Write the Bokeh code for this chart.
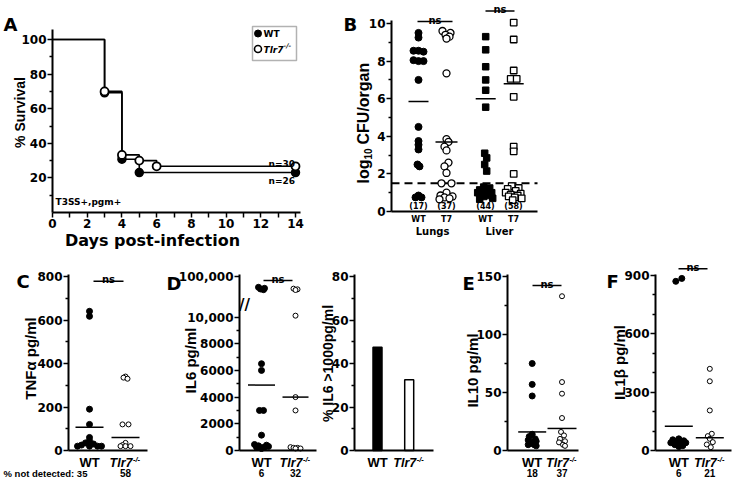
import math
from bokeh.plotting import figure
from bokeh.layouts import row, column
from bokeh.models import Range1d, FixedTicker, Label, BoxAnnotation
from bokeh.embed import file_html
from bokeh.resources import INLINE

# ===================== DATA =====================
# Panel A : Kaplan-Meier survival (% survival vs days post-infection)
wt_days = [0, 3, 4, 5, 14]
wt_survival = [100, 69.2, 30.8, 23.1, 23.1]
tlr7_days = [0, 3, 4, 5, 6, 14]
tlr7_survival = [100, 70.0, 33.3, 30.0, 26.7, 26.7]
survival_n = ["n=30", "n=26"]
strain_text = "T3SS+,pgm+"
days_ticks = [0, 2, 4, 6, 8, 10, 12, 14]
survival_ticks = [20, 40, 60, 80, 100]

# Panel B : log10 CFU / organ
cfu_groups = ["WT", "T7", "WT", "T7"]
cfu_organs = ["Lungs", "Liver"]
cfu_counts = ["(17)", "(37)", "(44)", "(58)"]
cfu_lungs_wt = [9.5, 9.25, 8.55, 8.55, 8.5, 8.05, 8.0, 8.0, 7.0, 4.5, 3.75, 3.55, 3.3,
                2.5, 2.4, 0.85, 0.75, 0.75]
cfu_lungs_t7 = [9.6, 9.5, 9.4, 9.3, 9.2, 7.35, 3.85, 3.7, 3.45, 3.25, 2.6, 2.4, 2.05,
                1.5, 1.5, 1.0, 0.85, 0.8, 0.75, 0.7, 0.65]
cfu_liver_wt = [9.3, 8.6, 7.7, 7.0, 6.45, 5.55, 3.1, 2.85, 2.5, 2.15, 1.3, 1.25, 1.15,
                1.1, 1.0, 1.0, 0.95, 0.9, 0.85, 0.8, 0.7, 0.65]
cfu_liver_t7 = [10.05, 9.15, 7.5, 7.05, 7.05, 6.1, 3.45, 3.2, 2.0, 1.35, 1.25, 1.2, 1.1,
                1.0, 0.95, 0.9, 0.85, 0.8, 0.75, 0.7, 0.6]
cfu_means = [5.85, 3.7, 6.0, 6.8]
cfu_limit = 1.5
cfu_ticks = [0, 2, 4, 6, 8, 10]

# Panel C : TNF-alpha pg/ml
tnf_wt = [640, 617, 190, 120, 60, 45, 35, 30, 25, 20, 20, 20, 20]
tnf_tlr7 = [340, 335, 330, 120, 120, 35, 25, 20, 20, 20]
tnf_means = [107, 60]
tnf_not_detected = ["35", "58"]
tnf_ticks = [0, 200, 400, 600, 800]

# Panel D : IL6 pg/ml (broken axis) and % IL6 > 1000 pg/ml
il6_wt = [68000, 65000, 63000, 61000, 6500, 6000, 3000, 3000, 1150, 450, 400, 350, 300,
          250, 250, 200, 200, 150]
il6_tlr7 = [64000, 62000, 60000, 10100, 4000, 3000, 250, 200, 200, 150, 150]
il6_means = [4900, 4000]
il6_n = ["6", "32"]
il6_low_ticks = [0, 2000, 4000, 6000, 8000, 10000]
il6_pct = [47.5, 32.5]
pct_ticks = [0, 20, 40, 60, 80]

# Panel E : IL10 pg/ml
il10_wt = [75, 57, 47, 14, 12, 10, 9, 8, 7, 6, 5, 5, 4]
il10_tlr7 = [133, 59, 49, 28, 16, 13, 10, 8, 7, 5, 4]
il10_means = [16, 19]
il10_n = ["18", "37"]
il10_ticks = [0, 50, 100, 150]

# Panel F : IL1beta pg/ml
il1b_wt = [885, 870, 60, 55, 50, 45, 40, 40, 35, 30, 25, 20]
il1b_tlr7 = [420, 356, 206, 86, 74, 60, 43, 31, 17]
il1b_means = [125, 65]
il1b_n = ["6", "21"]
il1b_ticks = [0, 300, 600, 900]

# ===================== LAYOUT (horizontal scatter offsets, px) =====================
jit_lungs_wt = [0, 0, -5, 0, 5, -5, 0, 5, 0, 0, 0, 0, 0, -1, 1, 0, -3, 3]
jit_lungs_t7 = [-4, 4, -1, 3, 0, 0, 0, 2, -2, 0, 2, -2, 0, -5, 5, 0, -6, 6, -2, 3, -7]
jit_liver_wt = [0, 0, 0, 0, 0, 0, -1, 1, -1, 1, -2, 4, -6, 2, -8, 6, 0, -4, 4, -2, 7, -6]
jit_liver_t7 = [0, 0, 0, -3, 3, 0, 0, 0, 0, -2, 5, -6, 2, -8, 7, -3, 4, -5, 1, 8, -1]
jit_tnf_wt = [0, 0, 0, 0, 0, 0, -4, 4, -8, -12, 8, 12, 0]
jit_tnf_tlr7 = [0, -2, 2, -3, 3, 0, -3, -5, 0, 5]
jit_il6_wt = [-3, 3, -1, 2, 0, 0, -2, 2, 0, -7, 5, -3, 7, -5, 3, -1, 1, 0]
jit_il6_tlr7 = [-2, 2, 0, 0, 0, 0, -5, -2, 2, 5, 0]
jit_il10_wt = [0, 0, 0, 0, -3, 3, -4, 4, 0, -2, 2, -4, 4]
jit_il10_tlr7 = [0, 0, 0, 0, -1, 2, -2, 3, -3, 1, 3]
jit_il1b_wt = [3, -3, 0, -6, 5, -3, 7, -8, 2, -4, 4, 0]
jit_il1b_tlr7 = [0, 0, 0, 2, -2, 0, 3, -3, 1]

FH = "DejaVu Sans"       # tick labels / wide horizontal texts
FV = "Liberation Sans"   # axis titles and group labels
ROT = math.pi / 2
W, H = 733, 478          # canvas size (picture coordinates = canvas coordinates)
TOP_H = 250


def lin(pa, va, pb, vb):
    k = (vb - va) / (pb - pa)
    return lambda q: va + (q - pa) * k


def make_panel(fig_rect, xmap, ymap):
    """Figure whose frame fills the whole canvas; picture-pixel maps xmap / ymap."""
    L, T, R, B = fig_rect
    fx, fy = lin(*xmap), lin(*ymap)
    p = figure(width=R - L, height=B - T, title=None,
               x_range=Range1d(fx(L), fx(R)), y_range=Range1d(fy(B), fy(T)),
               min_border=0, min_border_left=0, min_border_right=0,
               min_border_top=0, min_border_bottom=0,
               output_backend="svg", toolbar_location=None,
               background_fill_color="white", border_fill_color="white")
    p.outline_line_color = None
    p.xgrid.visible = False
    p.ygrid.visible = False
    return p, fx, fy


def style_axis(ax, fixed, bounds, ticks=(), minor=(), size=12, major_out=5, minor_out=3,
               overrides=None):
    ax.fixed_location = fixed
    ax.bounds = bounds
    ax.ticker = FixedTicker(ticks=list(ticks), minor_ticks=list(minor))
    ax.axis_line_color = "black"
    ax.axis_line_width = 2
    ax.major_tick_line_color = "black"
    ax.major_tick_line_width = 1.5
    ax.minor_tick_line_color = "black"
    ax.minor_tick_line_width = 1.5
    ax.major_tick_in = 0
    ax.major_tick_out = major_out
    ax.minor_tick_in = 0
    ax.minor_tick_out = minor_out
    ax.major_label_text_font = FH
    ax.major_label_text_font_style = "bold"
    ax.major_label_text_font_size = f"{size}px"
    ax.major_label_text_color = "black"
    ax.major_label_standoff = 1
    if overrides:
        ax.major_label_overrides = overrides


def axes(p, fx, fy, x0, x1, ybot, ytop, yticks, yminor, xticks=(), xminor=(), xout=0,
         overrides=None):
    style_axis(p.yaxis[0], fx(x0), (fy(ybot), fy(ytop)), yticks, yminor, overrides=overrides)
    style_axis(p.xaxis[0], fy(ybot), (fx(x0), fx(x1)), xticks, xminor,
               major_out=xout, minor_out=xout)


def label(p, fx, fy, px, py, text, size, font=FH, style="bold", align="center",
          baseline="middle", angle=0.0):
    p.add_layout(Label(x=fx(px), y=fy(py), text=text, text_font=font,
                       text_font_size=f"{size}px", text_font_style=style,
                       text_align=align, text_baseline=baseline, angle=angle,
                       text_color="black"))


def tlr7_label(p, fx, fy, cx, cy, size=12.5, sup=7.5, split=7):
    label(p, fx, fy, cx + split, cy, "Tlr7", size, font=FV, style="bold italic", align="right")
    label(p, fx, fy, cx + split + 0.5, cy - 3.5, "-/-", sup, font=FV, style="bold italic",
          align="left")


def ns_bar(p, fx, fy, x0, x1, py, size=10):
    p.segment(x0=[fx(x0)], y0=[fy(py)], x1=[fx(x1)], y1=[fy(py)],
              line_color="black", line_width=1.5)
    label(p, fx, fy, (x0 + x1) / 2, py - 1.5, "ns", size, baseline="alphabetic")


def jittered(pos, jit, fx):
    d = fx(1) - fx(0)
    return [pos + j * d for j in jit]


def mean_bars(p, fx, positions, means, half_px, width=1.5):
    d = fx(1) - fx(0)
    p.segment(x0=[x - h * d for x, h in zip(positions, half_px)], y0=means,
              x1=[x + h * d for x, h in zip(positions, half_px)], y1=means,
              line_color="black", line_width=width)


def group_labels(p, fx, fy, xs, ns_list=None):
    label(p, fx, fy, xs[0], 462, "WT", 13, font=FV)
    tlr7_label(p, fx, fy, xs[1], 462)
    if ns_list:
        label(p, fx, fy, xs[0], 472.5, ns_list[0], 10, font=FV)
        label(p, fx, fy, xs[1], 472.5, ns_list[1], 10, font=FV)


# ===================== PANEL A =====================
pA, ax_, ay_ = make_panel((0, 0, 338, TOP_H), (52, 0, 295, 14), (212, 0, 39, 100))
axes(pA, ax_, ay_, 52, 300, 212, 29, survival_ticks, [10, 30, 50, 70, 90],
     days_ticks, [1, 3, 5, 7, 9, 11, 13], xout=5)
pA.step(wt_days, wt_survival, mode="after", line_color="black", line_width=1.6)
pA.step(tlr7_days, tlr7_survival, mode="after", line_color="black", line_width=1.6)
pA.scatter(wt_days[1:], wt_survival[1:], marker="circle", size=8,
           fill_color="black", line_color="black", line_width=1.5)
pA.scatter(tlr7_days[1:], tlr7_survival[1:], marker="circle", size=8,
           fill_color="white", line_color="black", line_width=1.8)
pA.add_layout(BoxAnnotation(left=ax_(252), right=ax_(296), top=ay_(26), bottom=ay_(60),
                            fill_color=None, line_color="black", line_width=1.5))
pA.scatter([ax_(257.5)], [ay_(33)], marker="circle", size=7, fill_color="black", line_color="black")
pA.scatter([ax_(257.5)], [ay_(48.5)], marker="circle", size=7, fill_color="white",
           line_color="black", line_width=1.6)
label(pA, ax_, ay_, 263, 33, "WT", 9, align="left")
label(pA, ax_, ay_, 263, 49, "Tlr7", 9, style="bold italic", align="left")
label(pA, ax_, ay_, 283, 45.5, "-/-", 6.5, style="bold italic", align="left")
label(pA, ax_, ay_, 268, 163, survival_n[0], 9, align="left")
label(pA, ax_, ay_, 268, 180, survival_n[1], 9, align="left")
label(pA, ax_, ay_, 55, 201, strain_text, 9, align="left")
label(pA, ax_, ay_, 3, 24, "A", 18, align="left")
label(pA, ax_, ay_, 19, 112, "% Survival", 14, font=FV, angle=ROT)
label(pA, ax_, ay_, 152, 240, "Days post-infection", 16)

# ===================== PANEL B =====================
pB, bx, by = make_panel((338, 0, W, TOP_H), (418, 1, 446, 2), (211, 0, 23, 10))
axes(pB, bx, by, 391, 537, 211, 20, cfu_ticks, [1, 3, 5, 7, 9])
b_pos = [1, 2, 3.4, 4.4]
pB.segment(x0=[bx(391)], x1=[bx(537)], y0=[cfu_limit], y1=[cfu_limit], line_color="black",
           line_width=2, line_dash="8 5")
pB.scatter(jittered(b_pos[0], jit_lungs_wt, bx), cfu_lungs_wt, marker="circle", size=7,
           fill_color="black", line_color="black")
pB.scatter(jittered(b_pos[1], jit_lungs_t7, bx), cfu_lungs_t7, marker="circle", size=7,
           fill_color="white", line_color="black", line_width=1.3)
pB.scatter(jittered(b_pos[2], jit_liver_wt, bx), cfu_liver_wt, marker="square", size=6.5,
           fill_color="black", line_color="black")
pB.scatter(jittered(b_pos[3], jit_liver_t7, bx), cfu_liver_t7, marker="square", size=6.5,
           fill_color="white", line_color="black", line_width=1.3)
mean_bars(pB, bx, b_pos, cfu_means, [10, 11, 10, 10])
ns_bar(pB, bx, by, 417, 452, 21)
ns_bar(pB, bx, by, 485, 514, 10.5)
for pos_px, c in zip([418, 446, 485, 513], cfu_counts):
    label(pB, bx, by, pos_px, 206, c, 8)
for pos_px, g in zip([418, 446, 485, 513], cfu_groups):
    label(pB, bx, by, pos_px, 219, g, 8)
label(pB, bx, by, 432, 231, cfu_organs[0], 10)
label(pB, bx, by, 499, 231, cfu_organs[1], 10)
label(pB, bx, by, 343, 24, "B", 18, align="left")
label(pB, bx, by, 363, 183, "log", 16, font=FV, angle=ROT, align="left")
label(pB, bx, by, 367, 159, "10", 10, font=FV, angle=ROT, align="left")
label(pB, bx, by, 363, 144, "CFU/organ", 16, font=FV, angle=ROT, align="left")

# ===================== PANEL C =====================
pC, cx_, cy_ = make_panel((0, TOP_H, 150, H), (89, 1, 125, 2), (450, 0, 276, 800))
axes(pC, cx_, cy_, 68, 147, 450, 274.3, tnf_ticks, [100, 300, 500, 700])
pC.scatter(jittered(1, jit_tnf_wt, cx_), tnf_wt, marker="circle", size=6,
           fill_color="black", line_color="black")
pC.scatter(jittered(2, jit_tnf_tlr7, cx_), tnf_tlr7, marker="circle", size=5,
           fill_color="white", line_color="black", line_width=1)
mean_bars(pC, cx_, [1, 2], tnf_means, [14, 14])
ns_bar(pC, cx_, cy_, 93, 123, 280.7)
label(pC, cx_, cy_, 16, 281, "C", 18, align="left")
label(pC, cx_, cy_, 30, 358, "TNF\u03b1 pg/ml", 15, font=FV, angle=ROT)
group_labels(pC, cx_, cy_, [89, 125])
label(pC, cx_, cy_, 3, 472.5, "% not detected: " + tnf_not_detected[0], 9.5, font=FV, align="left")
label(pC, cx_, cy_, 125, 472.5, tnf_not_detected[1], 10, font=FV)

# ===================== PANEL D (left, broken axis) =====================
pD, dx_, dy_ = make_panel((150, TOP_H, 318, H), (261, 1, 295, 2), (450, 0, 316.5, 10000))
hi_map = lin(303, 20000, 276, 100000)
pD.extra_y_ranges = {"hi": Range1d(hi_map(H), hi_map(TOP_H))}
t100k = round(dy_(276))
axes(pD, dx_, dy_, 239, 316, 450, 274.3, il6_low_ticks + [t100k], [1000, 3000, 5000, 7000, 9000],
     overrides={10000: "10,000", t100k: "100,000"})
BREAK = 15000
for vals, jit, pos, filled, sz in [(il6_wt, jit_il6_wt, 1, True, 6), (il6_tlr7, jit_il6_tlr7, 2, False, 5)]:
    xs = jittered(pos, jit, dx_)
    lo = [(x, v) for x, v in zip(xs, vals) if v < BREAK]
    hi = [(x, v) for x, v in zip(xs, vals) if v >= BREAK]
    kw = dict(marker="circle", size=sz, line_color="black",
              fill_color="black" if filled else "white", line_width=1)
    pD.scatter([a for a, _ in lo], [b for _, b in lo], **kw)
    pD.scatter([a for a, _ in hi], [b for _, b in hi], y_range_name="hi", **kw)
mean_bars(pD, dx_, [1, 2], il6_means, [13.5, 13])
ns_bar(pD, dx_, dy_, 263, 292, 280)
label(pD, dx_, dy_, 244, 304, "//", 15)
label(pD, dx_, dy_, 166, 283, "D", 18, align="left")
label(pD, dx_, dy_, 190, 360, "IL6 pg/ml", 15, font=FV, angle=ROT)
group_labels(pD, dx_, dy_, [261, 295], il6_n)

# ===================== PANEL D (right, bars) =====================
pD2, qx, qy = make_panel((318, TOP_H, 440, H), (377, 1, 408.7, 2), (450, 0, 276, 80))
axes(pD2, qx, qy, 354, 433, 450, 274.3, pct_ticks, [10, 30, 50, 70])
pD2.vbar(x=[1, 2], top=il6_pct, bottom=0, width=9 * (qx(1) - qx(0)),
         fill_color=["black", "white"], line_color="black", line_width=1.5)
group_labels(pD2, qx, qy, [377, 408.7])
label(pD2, qx, qy, 327, 363, "% IL6 >1000pg/ml", 14, font=FV, angle=ROT)

# ===================== PANEL E =====================
pE, ex_, ey_ = make_panel((440, TOP_H, 590, H), (531.7, 1, 561.5, 2), (450, 0, 276, 150))
axes(pE, ex_, ey_, 507, 578, 450, 274.3, il10_ticks, [25, 75, 125])
pE.scatter(jittered(1, jit_il10_wt, ex_), il10_wt, marker="circle", size=6,
           fill_color="black", line_color="black")
pE.scatter(jittered(2, jit_il10_tlr7, ex_), il10_tlr7, marker="circle", size=5,
           fill_color="white", line_color="black", line_width=1)
mean_bars(pE, ex_, [1, 2], il10_means, [14, 14.5])
ns_bar(pE, ex_, ey_, 532, 561, 285)
label(pE, ex_, ey_, 462, 282.5, "E", 18, align="left")
label(pE, ex_, ey_, 472, 370, "IL10 pg/ml", 15, font=FV, angle=ROT)
group_labels(pE, ex_, ey_, [531.7, 561.5], il10_n)

# ===================== PANEL F =====================
pF, fx_, fy_ = make_panel((590, TOP_H, W, H), (678.3, 1, 709.3, 2), (450, 0, 275, 900))
axes(pF, fx_, fy_, 655, 731, 450, 274.3, il1b_ticks, [100, 200, 400, 500, 700, 800])
pF.scatter(jittered(1, jit_il1b_wt, fx_), il1b_wt, marker="circle", size=6,
           fill_color="black", line_color="black")
pF.scatter(jittered(2, jit_il1b_tlr7, fx_), il1b_tlr7, marker="circle", size=5,
           fill_color="white", line_color="black", line_width=1)
mean_bars(pF, fx_, [1, 2], il1b_means, [14, 14])
ns_bar(pF, fx_, fy_, 678, 707, 268.3)
label(pF, fx_, fy_, 606, 281, "F", 18, align="left")
label(pF, fx_, fy_, 619, 362, "IL1\u03b2 pg/ml", 15, font=FV, angle=ROT)
group_labels(pF, fx_, fy_, [678.3, 709.3], il1b_n)

layout = column(row(pA, pB), row(pC, pD, pD2, pE, pF))
open("out.html", "w").write(file_html(layout, INLINE))
